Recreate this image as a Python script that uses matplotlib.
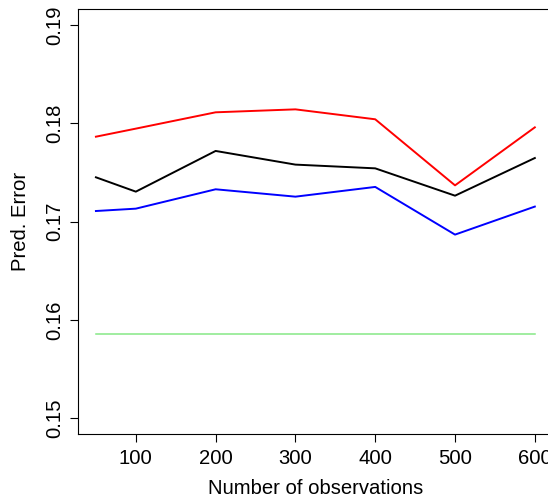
import matplotlib
matplotlib.use("Agg")
import matplotlib.pyplot as plt

# sample sizes and prediction errors
n_obs = [50, 100, 200, 300, 400, 500, 600]
err_red = [0.17864, 0.17946, 0.18112, 0.18142, 0.18041, 0.17369, 0.17959]
err_black = [0.17451, 0.17305, 0.17719, 0.17580, 0.17542, 0.17264, 0.17647]
err_blue = [0.17108, 0.17132, 0.17329, 0.17254, 0.17353, 0.16868, 0.17153]
err_green = [0.15858] * len(n_obs)

x_ticks = [100, 200, 300, 400, 500, 600]
y_ticks = [0.15, 0.16, 0.17, 0.18, 0.19]

plt.rcParams['font.family'] = ['Liberation Sans', 'DejaVu Sans']

fig = plt.figure(figsize=(5.48, 5.04), dpi=100)
# right edge of the box falls outside the picture, as in the reference
ax = fig.add_axes([0.1430, 0.1389, 0.8650, 0.8427])

ax.plot(n_obs, err_green, color='#86E886', lw=1.1)
ax.plot(n_obs, err_red, color='#FF0000', lw=1.4)
ax.plot(n_obs, err_black, color='black', lw=1.4)
ax.plot(n_obs, err_blue, color='#0000FF', lw=1.4)

ax.set_xlim(28, 622)
ax.set_ylim(0.1484, 0.1916)
ax.set_xticks(x_ticks)
ax.set_yticks(y_ticks)
ax.set_yticklabels([f"{v:.2f}" for v in y_ticks], rotation=90, va='center')
ax.tick_params(axis='both', labelsize=14.6, length=5.5, width=0.8, direction='out')
ax.tick_params(axis='x', pad=5)
ax.tick_params(axis='y', pad=5)
for s in ax.spines.values():
    s.set_linewidth(0.8)

ax.set_xlabel("Number of observations", fontsize=14.6, labelpad=8)
ax.set_ylabel("Pred. Error", fontsize=14.6, labelpad=11)

fig.savefig("out.png", dpi=100)
